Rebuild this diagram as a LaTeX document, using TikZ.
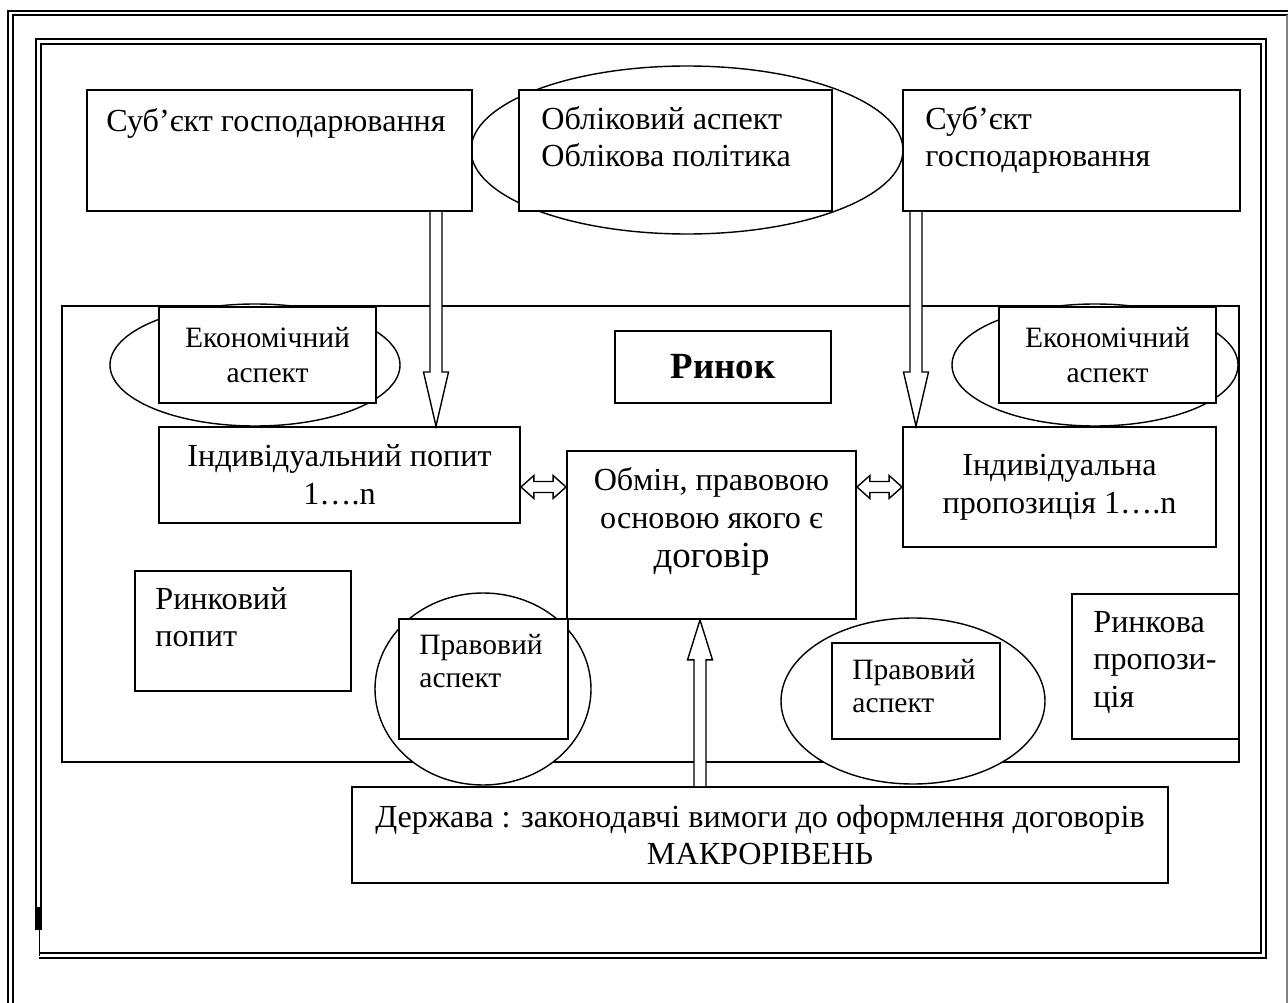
\documentclass[tikz,border=0pt]{standalone}
\usepackage{fontspec}
\setmainfont{Liberation Serif}
\usetikzlibrary{positioning, calc}

\newcommand\vblock[3]{%
  \draw[hollow] ($#1+(-6,0)$) -- ($#2+(-6,#3)$) -- ($#2+(-12.5,#3)$) -- #2
    -- ($#2+(12.5,#3)$) -- ($#2+(6,#3)$) -- ($#1+(6,0)$);}
\newcommand\hdouble[2]{%
  \draw[hollow] #1 -- ($#1+(13,-11.5)$) -- ($#1+(13,-5.5)$) -- ($#2+(-13,-5.5)$)
    -- ($#2+(-13,-11.5)$) -- #2 -- ($#2+(-13,11.5)$) -- ($#2+(-13,5.5)$)
    -- ($#1+(13,5.5)$) -- ($#1+(13,11.5)$) -- cycle;}

\tikzset{
  box/.style={draw, fill=white, line width=1.1pt, inner sep=0pt, align=center,
    font=\fontsize{18.3}{21.5}\selectfont},
  small/.style={font=\fontsize{16.8}{19.4}\selectfont},
  txt/.style={inner sep=0pt, align=left, font=\fontsize{18.3}{21}\selectfont},
  oval/.style={draw, fill=white, line width=0.8pt},
  hollow/.style={draw, fill=white, line width=0.8pt, line join=miter},
  frame/.style={draw, double, double distance=1.7pt, line width=1.1pt}
}

\begin{document}
\begin{tikzpicture}[x=0.02cm, y=-0.02cm]
  \useasboundingbox (0,0) rectangle (1288,1003);
  % frames
  \draw[frame] (10.3,1010) -- (10.3,13) -- (1295,13);
  \draw[gray, line width=0.6pt] (1287,15) -- (1287,1003);
  \draw[frame] (38.5,907) -- (38.5,41.8) -- (1263.5,41.8) -- (1263.5,955.5) -- (39,955.5);
  \draw[line width=0.14cm] (38.8,907) -- (38.8,930);
  \draw[line width=0.8pt] (39.3,929) -- (39.3,956);

  % top row
  \draw[oval] (687,150) ellipse [x radius=216, y radius=84];
  \node[box, minimum width=7.7cm, minimum height=2.42cm] (subl) at (279.5,150.5) {};
  \node[box, minimum width=6.26cm, minimum height=2.42cm] (oblik) at (675.5,150.5) {};
  \node[box, minimum width=6.74cm, minimum height=2.42cm] (subr) at (1071.5,150.5) {};
  \node[txt, below right=0.84cm and 0.4cm of subl.north west, anchor=base west] (sublt)
    {Суб’єкт господарювання};
  \node[txt, below right=1.54cm and 0.46cm of oblik.north west, anchor=base west] (oblikt)
    {Обліковий аспект\\Облікова політика};
  \node[txt, below right=1.54cm and 0.46cm of subr.north west, anchor=base west] (subrt)
    {Суб’єкт\\господарювання};

  % market
  \node[draw, line width=1.1pt, inner sep=0pt, minimum width=23.54cm,
    minimum height=9.12cm] (market) at (650.5,534) {};
  \draw[oval] (255,365) ellipse [x radius=145, y radius=61];
  \draw[oval] (1095,365) ellipse [x radius=143, y radius=61];
  \draw[oval] (483,689) ellipse [x radius=108, y radius=96];
  \draw[oval] (913,701) ellipse [x radius=132, y radius=83];

  \node[box, small, minimum width=4.34cm, minimum height=1.92cm] (econl) at (267.5,355)
    {Економічний\\аспект};
  \node[box, small, minimum width=4.34cm, minimum height=1.92cm] (econr) at (1107.5,355)
    {Економічний\\аспект};
  \node[box, minimum width=4.32cm, minimum height=1.44cm,
    font=\fontsize{21}{24}\selectfont\bfseries] (rynok) at (723,367) {Ринок};
  \node[box, minimum width=7.22cm, minimum height=1.92cm] (indpop) at (339.5,475)
    {Індивідуальний попит\\1….n};
  \node[box, minimum width=6.26cm, minimum height=2.4cm] (indprop) at (1059.5,487)
    {Індивідуальна\\пропозиція 1….n};
  \node[box, minimum width=5.78cm, minimum height=3.36cm] (obmin) at (711.5,535) {};
  \node[txt, align=center, below=2.34cm of obmin.north, anchor=base,
    font=\fontsize{18.3}{21.8}\selectfont] (obmint)
    {Обмін, правовою\\основою якого є\\{\fontsize{21}{24}\selectfont договір}};

  \node[box, minimum width=4.32cm, minimum height=2.4cm] (rpop) at (243,631) {};
  \node[txt, below right=1.52cm and 0.42cm of rpop.north west, anchor=base west] (rpopt)
    {Ринковий\\попит};
  \node[box, minimum width=3.38cm, minimum height=2.4cm] (pravl) at (483.5,679) {};
  \node[txt, small, below right=1.38cm and 0.42cm of pravl.north west, anchor=base west,
    font=\fontsize{16.8}{18.8}\selectfont] (pravlt) {Правовий\\аспект};
  \node[box, minimum width=3.36cm, minimum height=1.92cm] (pravr) at (916,691) {};
  \node[txt, small, below right=1.40cm and 0.42cm of pravr.north west, anchor=base west,
    font=\fontsize{16.8}{18.8}\selectfont] (pravrt) {Правовий\\аспект};
  \node[box, minimum width=3.34cm, minimum height=2.9cm] (rprop) at (1155.5,666.5) {};
  \node[txt, below right=2.28cm and 0.44cm of rprop.north west, anchor=base west,
    font=\fontsize{18.3}{21.3}\selectfont] (rpropt) {Ринкова\\пропози-\\ція};

  % state
  \node[box, minimum width=16.32cm, minimum height=1.92cm,
    font=\fontsize{18.3}{20.5}\selectfont] (derzh) at (760,835)
    {Держава : законодавчі вимоги до оформлення договорів\\МАКРОРІВЕНЬ};

  % arrows
  \coordinate (al) at (436,0);
  \coordinate (ar) at (916,0);
  \coordinate (am) at (700,0);
  \coordinate (hy) at (0,487);
  \vblock{(subl.south -| al)}{(indpop.north -| al)}{-54}
  \vblock{(subr.south -| ar)}{(indprop.north -| ar)}{-54}
  \vblock{(derzh.north -| am)}{(obmin.south -| am)}{40}
  \hdouble{(indpop.east |- hy)}{(obmin.west |- hy)}
  \hdouble{(obmin.east |- hy)}{(indprop.west |- hy)}
\end{tikzpicture}
\end{document}
